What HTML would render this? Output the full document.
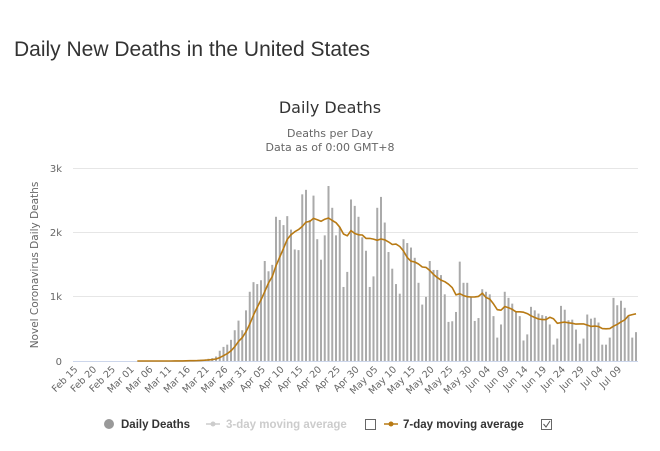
<!DOCTYPE html>
<html><head><meta charset="utf-8">
<style>
html,body{margin:0;padding:0;background:#fff;}
body{width:660px;height:451px;overflow:hidden;position:relative;font-family:"Liberation Sans",sans-serif;}
#t{position:absolute;left:14px;top:38px;font-size:21px;color:#333;white-space:nowrap;}
svg{position:absolute;left:0;top:0;}
</style></head><body>
<div id="t">Daily New Deaths in the United States</div>
<svg id="s" width="660" height="451" xmlns="http://www.w3.org/2000/svg" font-family="DejaVu Sans, Liberation Sans, sans-serif">
<text x="330" y="113" text-anchor="middle" font-size="16" fill="#333">Daily Deaths</text>
<text x="330" y="137" text-anchor="middle" font-size="11" fill="#666">Deaths per Day</text>
<text x="330" y="151" text-anchor="middle" font-size="11" fill="#666">Data as of 0:00 GMT+8</text>
<g stroke="#e6e6e6" stroke-width="1">
<line x1="73" x2="638" y1="168.5" y2="168.5"/>
<line x1="73" x2="638" y1="232.5" y2="232.5"/>
<line x1="73" x2="638" y1="296.5" y2="296.5"/>
</g>
<line x1="73" x2="638" y1="361.5" y2="361.5" stroke="#ccd6eb"/>
<g font-size="10" fill="#666" text-anchor="end">
<text x="62" y="172">3k</text>
<text x="62" y="236">2k</text>
<text x="62" y="300">1k</text>
<text x="62" y="365">0</text>
</g>
<text transform="translate(38,265) rotate(-90)" text-anchor="middle" font-size="10.5" fill="#666">Novel Coronavirus Daily Deaths</text>
<g id="bars" fill="#aaa"></g>
<g id="xl" font-size="9.5" fill="#666" text-anchor="end"></g>
<polyline id="ln" fill="none" stroke="#b87a14" stroke-width="1.6" stroke-linejoin="round"/>
<g font-family="Liberation Sans, sans-serif" font-size="11.5" font-weight="bold">
<circle cx="109" cy="424" r="5" fill="#999"/>
<text x="121" y="428" fill="#333">Daily Deaths</text>
<line x1="206" x2="220" y1="424" y2="424" stroke="#ccc" stroke-width="1.5"/><circle cx="213" cy="424" r="2.5" fill="#ccc"/>
<text x="226" y="428" fill="#ccc">3-day moving average</text>
<rect x="365.5" y="419.5" width="10" height="10" fill="#fff" stroke="#666"/>
<line x1="384" x2="398" y1="424" y2="424" stroke="#b87a14" stroke-width="1.5"/><circle cx="391" cy="424" r="2.5" fill="#b87a14"/>
<text x="403" y="428" fill="#333">7-day moving average</text>
<rect x="541.5" y="419.5" width="10" height="10" fill="#fff" stroke="#666"/>
<polyline points="543.5,424 546,427 550,421" fill="none" stroke="#555" stroke-width="1"/>
</g>
</svg>
<script>
var tail=[1,1,2,3,4,5,6,8,10,12,20,25,35,45,
70,160,220,255,330,480,630,480,790,1080,1230,1200,1260,1560,1400,1500,2250,2200,2120,2260,2050,1740,1730,2600,2670,2200,2580,1900,1580,1960,2730,2390,
1960,2090,1155,1390,2520,2420,2250,1930,1720,1155,1320,2390,2560,2160,1700,1440,1200,1050,1900,1840,1770,1610,1220,880,1000,1560,1420,1420,1340,1040,610,620,765,1550,1220,1220,1000,625,670,1120,1080,1040,700,365,570,1080,985,895,780,700,320,415,845,790,740,715,700,570,255,350,860,800,635,645,490,270,350,725,660,675,600,255,255,365,985,870,940,830,715,365,450];
var N=150,d=[];for(var i=0;i<N-tail.length;i++)d.push(0);d=d.concat(tail);
var NS="http://www.w3.org/2000/svg",g=document.getElementById('bars'),step=3.75,x0=636-step*(N-1),base=361,k=0.0641;
for(var i=0;i<N;i++){var h=d[i]*k;if(h<=0)continue;var r=document.createElementNS(NS,'rect');r.setAttribute('x',x0+i*step-1);r.setAttribute('y',base-h);r.setAttribute('width',2);r.setAttribute('height',h);g.appendChild(r);}
var pts=[];for(var i=16;i<N;i++){var s=0;for(var j=i-6;j<=i;j++)s+=d[j];pts.push((x0+i*step).toFixed(1)+','+(base-s/7*k).toFixed(1));}
document.getElementById('ln').setAttribute('points',pts.join(' '));
var labs=['Feb 15','Feb 20','Feb 25','Mar 01','Mar 06','Mar 11','Mar 16','Mar 21','Mar 26','Mar 31','Apr 05','Apr 10','Apr 15','Apr 20','Apr 25','Apr 30','May 05','May 10','May 15','May 20','May 25','May 30','Jun 04','Jun 09','Jun 14','Jun 19','Jun 24','Jun 29','Jul 04','Jul 09'];
var xl=document.getElementById('xl');
for(var i=0;i<labs.length;i++){var x=x0+i*5*step;var t=document.createElementNS(NS,'text');t.setAttribute('transform','translate('+(x+1)+',370) rotate(-45)');t.textContent=labs[i];xl.appendChild(t);}
</script>
</body></html>
